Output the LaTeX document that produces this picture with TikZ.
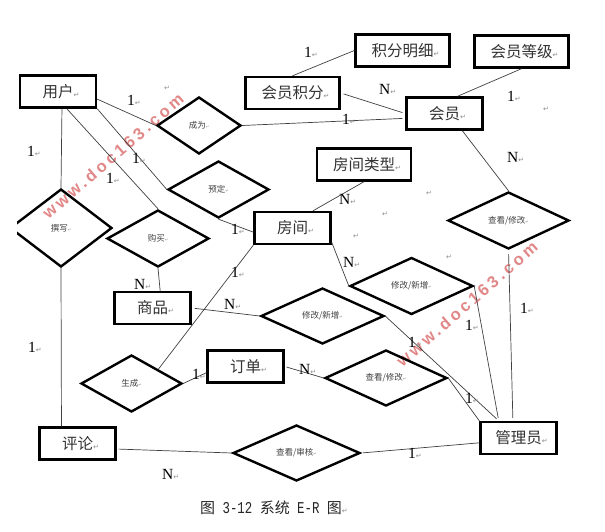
\documentclass[tikz,border=0pt]{standalone}
\usepackage{fontspec}
\setmainfont{Liberation Serif}
\newfontfamily\cjk{Noto Sans CJK SC}
\newfontfamily\symb{DejaVu Sans}
\newfontfamily\capmono[FakeStretch=0.75]{Liberation Mono}
\newfontfamily\markfont[LetterSpace=20]{Liberation Sans}
\usetikzlibrary{shapes.geometric}
\definecolor{markred}{RGB}{226, 135, 135}
\newcommand{\retmark}[1][7]{{\symb\color{black!45}\fontsize{#1}{#1}\selectfont ↵}}
\tikzset{
  entity/.style={draw,line width=2.4pt,inner sep=0pt,minimum width=#1,minimum height=32pt,font=\cjk\fontsize{15.5}{18}\selectfont,text=black!80,execute at begin node={\hskip 6pt}},
  entity/.default=76pt,
  relation/.style 2 args={draw,diamond,line width=2.4pt,inner sep=0pt,minimum width=#1,minimum height=#2,font=\cjk\fontsize{8.5}{10}\selectfont,text=black!75},
  link/.style={line width=0.7pt,black!75},
  card/.style={anchor=west,inner sep=0pt,font=\fontsize{15.5}{18}\selectfont},
  stray/.style={inner sep=0pt},
  brand/.style={rotate=41,text=markred,font=\markfont\bfseries\fontsize{16.5}{18}\selectfont}
}

\begin{document}
\begin{tikzpicture}[x=1pt,y=-1pt]
\path[use as bounding box,fill=white] (0,0) rectangle (605,531);
\node[brand] (brandleft) at (113,156) {www.doc163.com};
\node[brand] (brandright) at (467,304) {www.doc163.com};
\node[entity] (yonghu) at (58,91.5) {用户\retmark};
\node[entity=94pt] (huiyuanjifen) at (292.5,93) {会员积分\retmark};
\node[entity=94pt] (jifenmingxi) at (402.5,50.5) {积分明细\retmark};
\node[entity=94pt] (huiyuandengji) at (521.5,51.5) {会员等级\retmark};
\node[entity] (huiyuan) at (444.5,113.5) {会员\retmark};
\node[entity=94pt] (fangjianleixing) at (364,164.5) {房间类型\retmark};
\node[entity] (fangjian) at (292.5,228) {房间\retmark};
\node[entity] (shangpin) at (152.5,308) {商品\retmark};
\node[entity] (dingdan) at (245.5,366.5) {订单\retmark};
\node[entity] (pinglun) at (77.5,443.5) {评论\retmark};
\node[entity] (guanliyuan) at (518.5,438) {管理员\retmark};
\node[relation={84pt}{57pt}] (chengwei) at (199,125.5) {成为\retmark[4]};
\node[relation={101pt}{57pt}] (yuding) at (218.5,189.5) {预定\retmark[4]};
\begin{scope}
\clip (17,0) rectangle (605,531);
\node[relation={102pt}{78pt}] (zhuanxie) at (61,228) {撰写\retmark[4]};
\end{scope}
\node[relation={102pt}{57pt}] (goumai) at (158,238.5) {购买\retmark[4]};
\node[relation={121pt}{57pt}] (chakanhuiyuan) at (508.5,220.5) {查看/修改\retmark[4]};
\node[relation={123pt}{57pt}] (xiugaifangjian) at (411.5,286) {修改/新增\retmark[4]};
\node[relation={123pt}{56pt}] (xiugaishangpin) at (322.5,316) {修改/新增\retmark[4]};
\node[relation={122pt}{56pt}] (chakandingdan) at (386,378) {查看/修改\retmark[4]};
\node[relation={101pt}{57pt}] (shengcheng) at (131.5,383.5) {生成\retmark[4]};
\node[relation={127pt}{56pt}] (chakanpinglun) at (296.5,453) {查看/审核\retmark[4]};
\draw[link] (yonghu.-11) -- (chengwei.west);
\draw[link,shorten >=3pt] (chengwei.east) -- (huiyuan.187);
\draw[link] (yonghu.south east) -- (yuding.west);
\draw[link] (yonghu.-63) -- (goumai.north);
\draw[link] (yonghu.-77) -- (zhuanxie.north);
\draw[link] (zhuanxie.south) -- (pinglun.133);
\draw[link] (goumai.south) -- (shangpin.66);
\draw[link] (yuding.south) -- (fangjian.186);
\draw[link] (fangjian.south west) -- (shengcheng.28.5);
\draw[link] (fangjianleixing.south) -- (fangjian.40);
\draw[link] (fangjian.-20) -- (xiugaifangjian.west);
\draw[link,shorten >=3pt] (xiugaifangjian.east) -- (guanliyuan.139);
\draw[link,shorten >=3pt] (xiugaishangpin.east) -- (guanliyuan.139);
\draw[link] (chakandingdan.east) -- (guanliyuan.north west);
\draw[link] (huiyuan.-44) -- (chakanhuiyuan.north);
\draw[link,shorten <=4pt,shorten >=3pt] (chakanhuiyuan.south) -- (guanliyuan.108);
\draw[link] (huiyuandengji.south) -- (huiyuan.53);
\draw[link] (jifenmingxi.west) -- (huiyuanjifen.north);
\draw[link,shorten <=3pt,shorten >=3pt] (huiyuanjifen.east) -- (huiyuan.west);
\draw[link,shorten <=3pt] (shangpin.east) -- (xiugaishangpin.west);
\draw[link] (shengcheng.east) -- (dingdan.189);
\draw[link,shorten <=2pt] (dingdan.east) -- (chakandingdan.west);
\draw[link,shorten <=2pt] (pinglun.-8) -- (chakanpinglun.west);
\draw[link,shorten <=2pt] (chakanpinglun.east) -- (guanliyuan.187);
\node[card] (cardchengwei) at (127,100) {1\retmark};
\node[card] (cardzhuanxie) at (27,151) {1\retmark};
\node[card] (cardyuding) at (132,158) {1\retmark};
\node[card] (cardgoumai) at (106,178) {1\retmark};
\node[card] (cardfangjian) at (231,229) {1\retmark};
\node[card] (cardshengcheng) at (231,272) {1\retmark};
\node[card] (cardshangpin) at (134,284) {N\retmark};
\node[card] (cardxiugai) at (224,304) {N\retmark};
\node[card] (cardpinglun) at (28,347) {1\retmark};
\node[card] (carddingdan) at (192,374) {1\retmark};
\node[card] (cardshenhe) at (162,474) {N\retmark};
\node[card] (cardmingxi) at (304,52) {1\retmark};
\node[card] (cardjifen) at (379,89) {N\retmark};
\node[card] (cardhuiyuan) at (342,119) {1\retmark};
\node[card] (carddengji) at (507,96) {1\retmark};
\node[card] (cardchakan) at (507,157) {N\retmark};
\node[card] (cardleixing) at (339,199) {N\retmark};
\node[card] (cardxinzeng) at (343,262) {N\retmark};
\node[card] (cardadmina) at (465,325) {1\retmark};
\node[card] (cardadminb) at (520,308) {1\retmark};
\node[card] (cardadminc) at (408,342) {1\retmark};
\node[card] (cardorder) at (299,369) {N\retmark};
\node[card] (cardadmind) at (465,398) {1\retmark};
\node[card] (cardadmine) at (408,453) {1\retmark};
\node[stray] (straya) at (167,88) {\retmark};
\node[stray] (strayb) at (546,109) {\retmark};
\node[stray] (strayc) at (429,193) {\retmark};
\node[stray] (strayd) at (385,214) {\retmark};
\node[stray] (straye) at (356,236) {\retmark};
\node[stray] (strayf) at (449,257) {\retmark};
\node[anchor=west,inner sep=0pt,font=\cjk\fontsize{15}{16}\selectfont,text=black!85] (caption) at (200,508) {图{\capmono\fontsize{16.5}{16}\selectfont\ 3-12\ }系统{\capmono\fontsize{16.5}{16}\selectfont\ E-R\ }图\retmark};
\end{tikzpicture}
\end{document}
